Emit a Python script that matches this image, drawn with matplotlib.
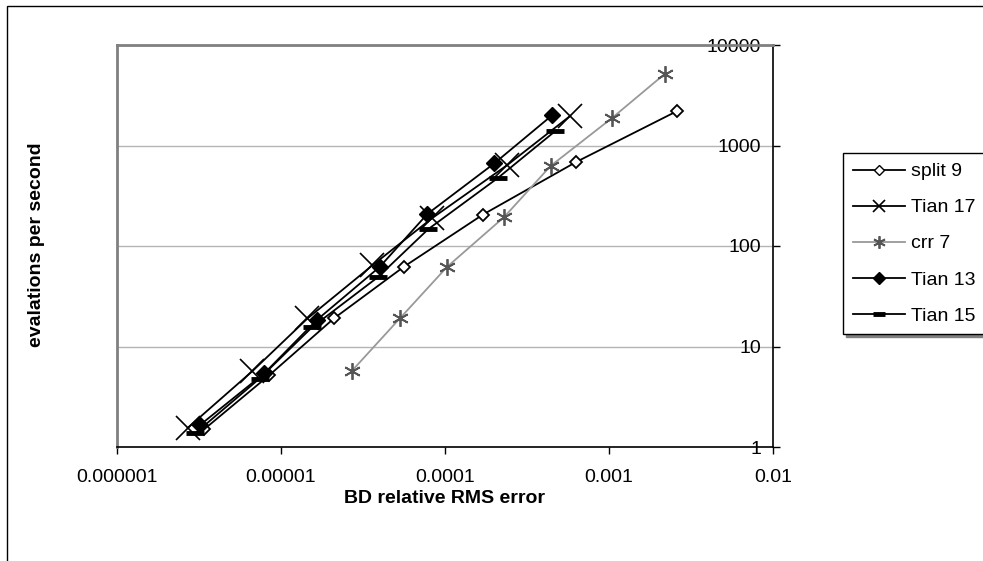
import matplotlib
matplotlib.use("Agg")
import matplotlib.pyplot as plt
from matplotlib.lines import Line2D
from matplotlib.patches import Rectangle
from matplotlib.ticker import NullLocator

plt.rcParams['font.family'] = ['Liberation Sans', 'DejaVu Sans']

# datos
split9_x = [3.4e-6, 8.5e-6, 2.1e-5, 5.6e-5, 1.7e-4, 6.3e-4, 2.6e-3]
split9_y = [1.5, 5.2, 19, 62, 205, 685, 2200]
tian17_x = [2.7e-6, 6.7e-6, 1.45e-5, 3.6e-5, 8.3e-5, 2.4e-4, 5.8e-4]
tian17_y = [1.55, 5.7, 19, 64, 188, 640, 1970]
crr7_x = [2.7e-5, 5.3e-5, 1.03e-4, 2.3e-4, 4.4e-4, 1.04e-3, 2.2e-3]
crr7_y = [5.7, 19, 62, 195, 625, 1870, 5200]
tian13_x = [3.2e-6, 7.9e-6, 1.65e-5, 4.0e-5, 7.8e-5, 2.0e-4, 4.5e-4]
tian13_y = [1.65, 5.4, 18.3, 62, 208, 665, 2000]
tian15_x = [3.0e-6, 7.4e-6, 1.55e-5, 3.9e-5, 7.9e-5, 2.1e-4, 4.7e-4]
tian15_y = [1.37, 4.8, 15.6, 49, 147, 475, 1390]

xticks = [1e-6, 1e-5, 1e-4, 1e-3, 1e-2]
xlabels = ['0.000001', '0.00001', '0.0001', '0.001', '0.01']
yticks = [1, 10, 100, 1000, 10000]
ylabels = ['1', '10', '100', '1000', '10000']

fig = plt.figure(figsize=(9.83, 5.61), dpi=100)
ax = fig.add_axes([117/983, 1 - 447/561, 656/983, 402/561])
ax.set_xscale('log')
ax.set_yscale('log')

lw = 1.3
ax.plot(split9_x, split9_y, color='black', lw=lw, marker='D', ms=6.5,
        mfc='white', mec='black', mew=1.3, zorder=3)
ax.plot(tian17_x, tian17_y, color='black', lw=lw, marker='x', ms=17,
        mec='black', mew=1.2, zorder=3)
ax.plot(crr7_x, crr7_y, color='#999999', lw=lw, marker=(6, 2, 0), ms=12,
        mec='#555555', mew=1.3, zorder=3)
ax.plot(tian13_x, tian13_y, color='black', lw=lw, marker='D', ms=8,
        mfc='black', mec='black', zorder=3)
ax.plot(tian15_x, tian15_y, color='black', lw=lw, marker='_', ms=13,
        mec='black', mew=3.5, zorder=3)

ax.set_xlim(1e-6, 1e-2)
ax.set_ylim(1, 10000)
ax.set_xticks(xticks, xlabels)
ax.set_yticks(yticks, ylabels)
ax.xaxis.set_minor_locator(NullLocator())
ax.yaxis.set_minor_locator(NullLocator())

ax.grid(axis='y', color='#b4b4b4', lw=1)
ax.set_axisbelow(True)

ax.spines['left'].set_color('#808080')
ax.spines['left'].set_linewidth(2)
ax.spines['top'].set_color('#808080')
ax.spines['top'].set_linewidth(2)
ax.spines['right'].set_color('black')
ax.spines['bottom'].set_color('black')
ax.spines['right'].set_linewidth(1.2)
ax.spines['bottom'].set_linewidth(1.2)

ax.tick_params(axis='x', direction='out', length=5, width=1, pad=11, labelsize=14)
ax.tick_params(axis='y', left=False, right=True, labelleft=False, labelright=True,
               direction='out', length=5, width=1, pad=-13.5, labelsize=14)
for lab in ax.get_yticklabels():
    lab.set_horizontalalignment('right')

fig.text(445/983, 1 - 503/561, 'BD relative RMS error', ha='center', va='baseline',
         fontsize=14, fontweight='bold')
fig.text(37/983, 1 - 245/561, 'evalations per second', ha='center', va='center',
         rotation=90, fontsize=14, fontweight='bold')

handles = [
    Line2D([], [], color='black', lw=lw, marker='D', ms=5, mfc='white', mec='black'),
    Line2D([], [], color='black', lw=lw, marker='x', ms=8, mec='black', mew=1.2),
    Line2D([], [], color='#999999', lw=lw, marker=(6, 2, 0), ms=9, mec='#555555', mew=1.3),
    Line2D([], [], color='black', lw=lw, marker='D', ms=6, mfc='black'),
    Line2D([], [], color='black', lw=lw, marker='_', ms=8, mew=3.5),
]
names = ['split 9', 'Tian 17', 'crr 7', 'Tian 13', 'Tian 15']
leg = fig.legend(handles, names, loc='upper left', bbox_to_anchor=(843/983, 1 - 153/561),
                 fontsize=14, frameon=True, fancybox=False, edgecolor='black',
                 handlelength=2.7, handletextpad=0.3, labelspacing=0.95,
                 borderpad=0.5, borderaxespad=0, shadow={'color': '#808080', 'alpha': 1})
leg.get_frame().set_linewidth(1)

fig.add_artist(Rectangle((7/983, -0.1), 2, 1 - 6/561 + 0.1, transform=fig.transFigure,
                         fill=False, ec='black', lw=1))

fig.savefig('out.png', dpi=100)
